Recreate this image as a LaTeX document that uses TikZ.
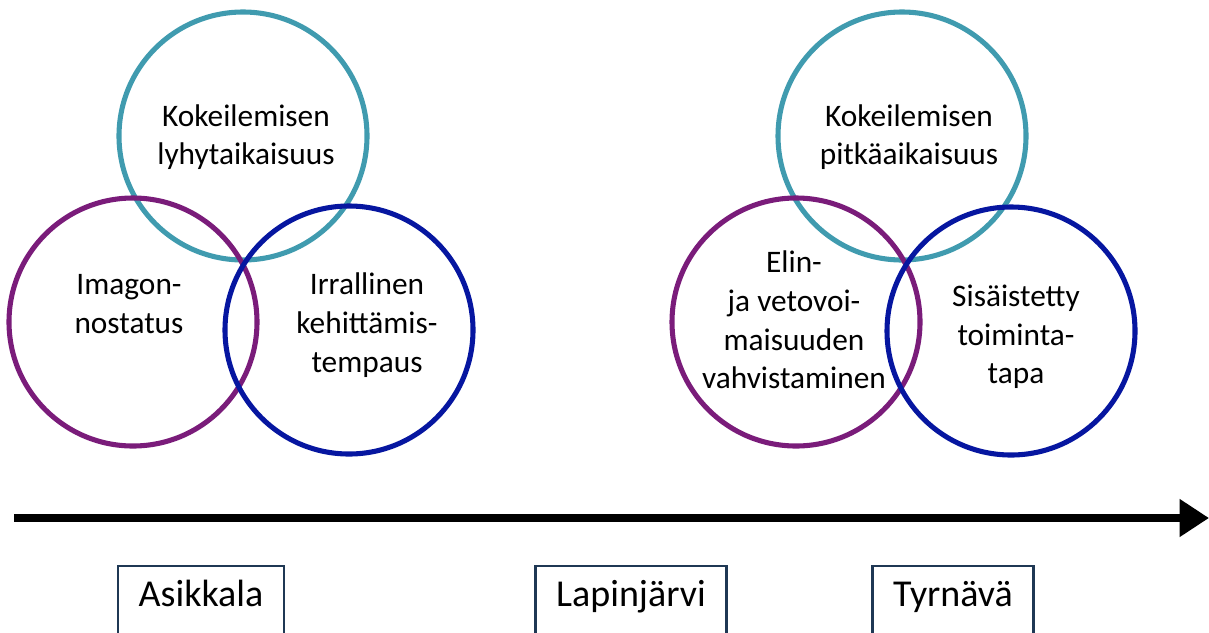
\documentclass[tikz,border=0pt]{standalone}
\usepackage{fontspec}
\setmainfont{Carlito}
\usetikzlibrary{arrows.meta,positioning}

\definecolor{ringteal}{RGB}{64,155,175}
\definecolor{ringpurple}{RGB}{122,28,122}
\definecolor{ringblue}{RGB}{6,22,160}
\definecolor{boxnavy}{RGB}{31,56,84}

\begin{document}
\begin{tikzpicture}[
      x=0.75pt, y=-0.75pt,
      ring/.style={
         circle,
         draw=#1,
         line width=3.8pt,
         inner sep=0pt,
         minimum size=186pt},
      ringtext/.style={
         align=center,
         inner sep=0pt,
         font=\fontsize{23.5}{29}\selectfont},
      place/.style={
         draw=boxnavy,
         line width=2pt,
         inner xsep=15.5pt,
         minimum height=55.5pt,
         text height=0.7em,
         text depth=0.2em,
         font=\fontsize{28.5}{33}\selectfont},
      timeline/.style={line width=5.6pt,-{Triangle[length=22pt,width=27pt]}}
      ]
      \path[use as bounding box,clip] (0,0) rectangle (1209,632);

      % circles
      \foreach \name/\pos/\col in {%
        lshort/{(243,136)}/ringteal,
        limage/{(133,322)}/ringpurple,
        lloose/{(349,330)}/ringblue,
        rlong/{(902,136)}/ringteal,
        rlive/{(796,322)}/ringpurple,
        rbuilt/{(1011,331)}/ringblue}
        \node[ring=\col] (\name) at \pos {};

      \node[ringtext] (lshorttxt) at (246,137) {Kokeilemisen\\lyhytaikaisuus};
      \node[ringtext] (limagetxt) at (129,304) {Imagon-\\nostatus};
      \node[ringtext] (lloosetxt) at (367,325) {Irrallinen\\kehittämis-\\tempaus};
      \node[ringtext] (rlongtxt) at (909,137) {Kokeilemisen\\pitkäaikaisuus};
      \node[ringtext] (rlivetxt) at (794,320) {Elin-\\ja vetovoi-\\maisuuden\\vahvistaminen};
      \node[ringtext] (rbuilttxt) at (1016,337) {Sisäistetty\\toiminta-\\tapa};

      % timeline
      \coordinate (tstart) at (14,518);
      \coordinate (tend) at (1209,518);
      \draw[timeline] (tstart) -- (tend);

      % municipalities
      \node[place] (asikkala) at (201,603) {Asikkala};
      \node[place] (lapinjarvi) at (631,603) {Lapinjärvi};
      \node[place] (tyrnava) at (953,603) {Tyrnävä};
\end{tikzpicture}
\end{document}
